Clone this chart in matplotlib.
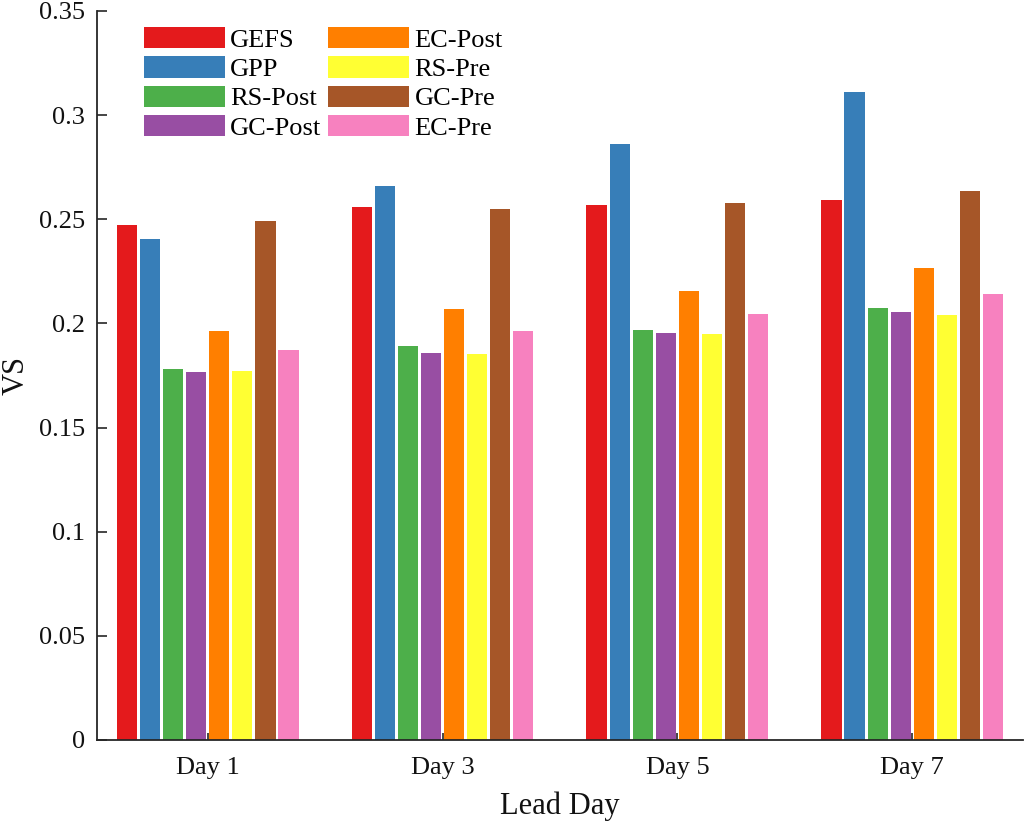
import numpy as np
import matplotlib
matplotlib.use('Agg')
import matplotlib.pyplot as plt

plt.rcParams['font.family'] = ['Liberation Serif', 'DejaVu Serif']

days = ['Day 1', 'Day 3', 'Day 5', 'Day 7']
models = ['GEFS', 'GPP', 'RS-Post', 'GC-Post', 'EC-Post', 'RS-Pre', 'GC-Pre', 'EC-Pre']
colors = ['#E41A1C', '#377EB8', '#4DAF4A', '#984EA3', '#FF7F00', '#FFFF33', '#A65628', '#F781BF']

gefs = [0.247, 0.256, 0.257, 0.259]
gpp = [0.2405, 0.266, 0.286, 0.311]
rs_post = [0.178, 0.189, 0.197, 0.2075]
gc_post = [0.1766, 0.186, 0.1955, 0.2054]
ec_post = [0.1965, 0.207, 0.2156, 0.2266]
rs_pre = [0.177, 0.1855, 0.195, 0.2038]
gc_pre = [0.249, 0.255, 0.258, 0.2635]
ec_pre = [0.1872, 0.1965, 0.2046, 0.2139]
series = [gefs, gpp, rs_post, gc_post, ec_post, rs_pre, gc_pre, ec_pre]

fig = plt.figure(figsize=(10.24, 8.21), dpi=100)
ax = fig.add_axes([0.095, 0.0987, 0.9037, 0.888])

x = np.arange(1, len(days) + 1)
group_w = 0.786
slot = group_w / len(models)
for i, (vals, name, c) in enumerate(zip(series, models, colors)):
    offs = -group_w / 2 + slot * (i + 0.5)
    ax.bar(x + offs, vals, width=slot * 0.88, color=c, label=name, edgecolor='none')

ax.set_xlim(0.53, 4.47)
ax.set_ylim(0, 0.35)
ax.set_yticks(np.arange(0, 0.351, 0.05))
ax.set_yticklabels(['0', '0.05', '0.1', '0.15', '0.2', '0.25', '0.3', '0.35'])
ax.set_xticks(x)
ax.set_xticklabels(days)

for s in ['top', 'right']:
    ax.spines[s].set_visible(False)
for s in ['left', 'bottom']:
    ax.spines[s].set_color('#262626')
    ax.spines[s].set_linewidth(1.3)

ax.tick_params(axis='y', direction='in', length=7, width=1.2, color='#262626',
               labelsize=19, pad=9, labelcolor='#111111')
ax.tick_params(axis='x', direction='in', length=5, width=1.2, color='#262626',
               labelsize=19, pad=12, labelcolor='#111111')

ax.set_xlabel('Lead Day', fontsize=22, color='#111111', labelpad=9)
ax.set_ylabel('VS', fontsize=22, color='#111111')
ax.yaxis.set_label_coords(-0.072, 0.5)

ax.legend(ncol=2, loc='upper left', bbox_to_anchor=(144 / 1024, 1 - 27 / 821),
          bbox_transform=fig.transFigure, frameon=False, fontsize=19,
          handlelength=3.07, handleheight=0.87, handletextpad=0.2,
          columnspacing=0.25, labelspacing=0.17, borderpad=0, borderaxespad=0)

fig.savefig('out.png', dpi=100)
